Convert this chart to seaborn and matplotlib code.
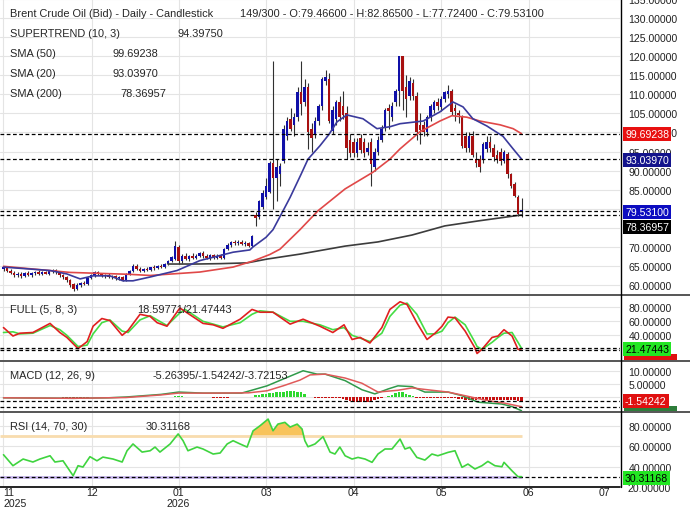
import matplotlib
matplotlib.use("Agg")
import matplotlib.pyplot as plt
from matplotlib.lines import Line2D
from matplotlib.patches import Rectangle
import seaborn as sns
import numpy as np

sns.set_theme(style="white")
plt.rcParams['font.family'] = ['Liberation Sans', 'DejaVu Sans']

# ---- candles (bar index 0..148) ----
opens = [64.2, 64.6, 63.8, 63.2, 62.5, 63.0, 62.4, 63.1, 62.7, 63.2,
         63.5, 62.9, 63.3, 63.0, 63.6, 63.9, 63.3, 62.5, 62.0, 61.2,
         60.2, 59.0, 60.1, 60.4, 60.2, 61.9, 62.6, 63.3, 62.8, 62.3,
         62.6, 62.1, 62.3, 61.8, 62.0, 61.4, 62.9, 63.8, 65.0, 64.3,
         63.8, 64.2, 64.0, 64.6, 64.4, 65.0, 64.7, 65.6, 66.4, 66.8,
         70.0, 66.3, 67.5, 66.8, 67.6, 67.2, 67.7, 68.3, 67.5, 67.0,
         67.8, 67.2, 67.6, 67.1, 69.4, 70.6, 71.2, 70.9, 71.4, 70.7,
         71.1, 70.3, 78.3, 77.8, 80.5, 83.0, 84.5, 92.0, 88.0, 89.0,
         92.5, 99.0, 103.5, 102.0, 104.0, 110.6, 108.0, 112.0, 101.0, 99.6,
         103.0, 107.0, 113.5, 114.0, 100.5, 103.5, 108.0, 107.0, 105.0, 98.0,
         97.5, 94.5, 98.5, 97.5, 95.0, 97.5, 91.0, 95.0, 98.0, 101.5,
         106.5, 104.0, 108.0, 111.0, 120.0, 112.0, 109.6, 113.0, 109.6, 102.0,
         102.0, 100.0, 104.0, 106.0, 108.0, 106.7, 108.8, 110.0, 111.0, 106.5,
         105.0, 104.0, 99.0, 96.0, 99.0, 93.0, 93.0, 93.0, 95.7, 97.5,
         96.0, 94.0, 95.0, 92.5, 94.4, 89.0, 86.5, 83.0, 79.466]
highs = [65.0, 64.9, 64.3, 63.6, 63.4, 63.3, 63.4, 63.6, 63.4, 63.7,
         63.9, 63.6, 63.8, 63.9, 64.2, 64.3, 63.6, 62.9, 62.4, 61.6,
         60.6, 60.4, 60.8, 61.0, 62.2, 63.0, 63.6, 63.8, 63.2, 63.0,
         63.1, 62.6, 62.7, 62.4, 62.3, 63.2, 64.0, 65.5, 65.6, 64.7,
         64.5, 64.6, 64.8, 65.2, 65.3, 65.4, 65.8, 66.6, 67.6, 71.5,
         70.6, 68.0, 68.3, 67.9, 68.3, 68.0, 68.6, 68.8, 68.0, 68.1,
         68.2, 68.0, 68.0, 69.8, 71.0, 71.5, 71.8, 71.7, 71.8, 71.5,
         71.4, 73.2, 79.2, 82.3, 84.8, 88.0, 92.5, 118.8, 93.0, 92.0,
         102.0, 104.0, 106.5, 105.0, 112.0, 118.8, 114.0, 113.0, 102.5, 104.0,
         107.5, 114.5, 116.5, 115.5, 107.0, 108.5, 109.5, 111.0, 107.0, 99.5,
         98.5, 98.5, 99.5, 98.5, 97.5, 98.5, 96.0, 99.0, 102.0, 106.5,
         107.5, 108.0, 111.5, 120.0, 120.0, 115.0, 114.5, 114.0, 110.5, 105.0,
         103.0, 104.5, 107.5, 108.5, 109.0, 109.5, 111.0, 112.5, 111.5, 107.5,
         106.0, 104.5, 100.0, 100.0, 100.5, 95.0, 94.0, 97.5, 99.0, 99.0,
         97.0, 95.5, 96.0, 95.5, 95.0, 89.5, 87.0, 83.5, 82.865]
lows = [63.6, 63.5, 62.8, 62.0, 62.1, 61.9, 62.0, 62.4, 62.0, 62.6,
        62.5, 62.6, 62.8, 62.7, 63.2, 63.0, 62.2, 61.6, 60.8, 59.6,
        58.4, 58.7, 59.5, 59.9, 60.0, 61.5, 62.2, 62.5, 62.0, 61.9,
        61.8, 61.5, 61.4, 61.2, 61.0, 61.1, 62.6, 63.5, 64.0, 63.5,
        63.4, 63.6, 63.7, 64.0, 64.1, 64.4, 64.5, 65.3, 66.1, 66.5,
        65.5, 65.9, 66.5, 66.4, 66.9, 66.7, 67.3, 67.2, 66.7, 66.6,
        66.9, 66.8, 66.8, 66.9, 69.1, 70.0, 70.6, 70.5, 70.4, 70.3,
        69.9, 70.0, 75.5, 77.3, 80.0, 82.5, 84.0, 80.0, 82.0, 86.0,
        92.0, 98.0, 100.5, 99.0, 103.0, 104.5, 107.0, 95.7, 95.0, 98.5,
        102.0, 106.0, 112.5, 102.5, 99.5, 102.0, 103.0, 103.5, 93.0, 93.5,
        93.5, 93.5, 94.5, 93.5, 94.0, 86.0, 90.0, 94.0, 97.5, 100.5,
        101.0, 103.0, 107.0, 107.0, 106.0, 104.0, 108.5, 108.5, 98.0, 97.0,
        99.0, 99.0, 103.0, 105.0, 106.0, 105.5, 108.0, 109.0, 104.5, 103.0,
        102.5, 96.0, 95.0, 95.0, 93.5, 91.0, 89.6, 92.0, 95.0, 95.0,
        92.5, 92.0, 91.5, 92.0, 88.0, 85.5, 83.0, 78.0, 77.724]
closes = [64.6, 63.8, 63.2, 62.5, 63.0, 62.4, 63.1, 62.7, 63.2, 63.5,
          62.9, 63.3, 63.0, 63.6, 63.9, 63.3, 62.5, 62.0, 61.2, 60.0,
          58.9, 60.1, 60.4, 60.2, 61.9, 62.6, 63.3, 62.8, 62.3, 62.6,
          62.1, 62.3, 61.8, 62.0, 61.4, 62.9, 63.8, 65.0, 64.3, 63.8,
          64.2, 64.0, 64.6, 64.4, 65.0, 64.7, 65.6, 66.4, 67.3, 70.2,
          66.3, 67.5, 66.8, 67.6, 67.2, 67.7, 68.3, 67.5, 67.0, 67.8,
          67.2, 67.6, 67.1, 69.4, 70.6, 71.2, 70.9, 71.4, 70.7, 71.1,
          70.3, 72.9, 77.6, 82.0, 84.2, 86.0, 92.0, 88.0, 91.0, 91.2,
          101.0, 103.0, 101.0, 104.0, 110.6, 107.5, 112.0, 100.0, 98.5, 103.0,
          107.0, 114.0, 114.5, 103.0, 106.0, 108.0, 104.0, 104.5, 96.0, 94.5,
          94.5, 97.5, 95.5, 94.5, 96.0, 91.8, 95.0, 98.0, 101.0, 106.0,
          105.5, 107.0, 111.0, 120.0, 111.0, 108.8, 113.5, 109.6, 100.0, 100.6,
          100.0, 104.0, 107.0, 108.0, 107.0, 108.8, 110.6, 111.0, 105.4, 105.5,
          104.5, 96.5, 96.0, 99.0, 94.0, 92.0, 91.0, 97.0, 97.5, 96.0,
          93.5, 93.0, 92.5, 95.0, 89.0, 86.0, 83.4, 78.6, 79.531]

# ---- moving averages (bar position, value) ----
sma20_x = [0, 13.3, 18.1, 21.9, 25.6, 30.4, 34.1, 37, 41.9, 49.6, 56.1, 65.6,
           70.4, 71.3, 75, 77, 79.9, 81.9, 85, 87, 90.4, 93, 95.3, 98.1, 102.7,
           106.7, 110.4, 113.3, 119.9, 124.7, 128.4, 131.3, 134.1, 138.1, 142.7,
           145.6, 148]
sma20_v = [64.7, 63.8, 62.9, 61.6, 62.4, 62.4, 61.1, 61.1, 62.1, 63.8, 66.4, 68.6,
           69.2, 70.0, 72.5, 74.5, 79.5, 83.0, 89.0, 93.0, 96.5, 99.5, 102.8, 104.6,
           103.6, 101.0, 101.5, 102.3, 103.0, 105.4, 108.0, 106.7, 103.6, 101.7,
           99.0, 95.7, 93.0397]
sma50_x = [0, 19, 36, 41.9, 56.1, 65.6, 71.3, 76.1, 79, 84.7, 89.9, 97.6, 105.6,
           110.4, 113.3, 119, 124.7, 128.1, 132.4, 136.1, 141.9, 145.6, 148]
sma50_v = [64.9, 63.3, 62.8, 62.5, 63.4, 64.7, 66.3, 68.0, 69.4, 74.5, 79.5, 85.2,
           89.6, 93.0, 95.7, 100.2, 103.0, 104.4, 104.0, 103.0, 102.0, 101.0, 99.69238]
sma200_x = [47, 55, 62, 69.6, 75.3, 84.7, 97.6, 107, 116.7, 126.1, 135.6, 148]
sma200_v = [65.5, 65.5, 65.6, 65.8, 66.8, 68.1, 70.2, 71.3, 73.1, 75.5, 76.8, 78.36957]

# ---- FULL stochastic ----
full_x = [0, 2.7, 4.7, 8.4, 13.3, 16.1, 18.1, 21.3, 23.9, 25.6, 28.1, 30.4, 33.9,
          35.6, 39, 41.9, 43.9, 46.7, 50.4, 51.9, 57, 59.9, 62.7, 67.6, 71, 73.3,
          77, 81.9, 85.6, 90.4, 94.1, 97.3, 99.6, 101.9, 104.7, 108.1, 110.4, 113.3,
          115.3, 118.1, 121, 123.3, 125.3, 127, 129, 131.9, 134.7, 135.3, 136.7,
          139.6, 141.3, 143, 145.3, 147, 148]
full_k = [51, 39, 43, 44, 57, 44, 37, 21, 31, 53, 64, 61, 40, 47, 70, 67, 58, 53,
          79, 74, 57, 55, 50, 63, 77, 73, 73, 56, 63, 53, 44, 55, 34, 37, 29, 51,
          77, 88, 84, 58, 34, 43, 53, 66, 65, 46, 22, 14, 20, 37, 39, 48, 39, 20,
          18.59771]
full_d = [44, 45, 42, 43, 54, 48, 40, 24, 26, 42, 58, 62, 46, 44, 62, 68, 62, 54,
          72, 77, 60, 56, 52, 58, 70, 75, 73, 60, 60, 55, 48, 51, 40, 36, 31, 43,
          67, 83, 86, 70, 42, 42, 46, 58, 66, 55, 30, 24, 20, 30, 37, 43, 44, 30,
          21.47443]

# ---- MACD ----
macd_x = [0, 20, 30, 35, 45, 50, 57, 68, 70.4, 75.3, 79.9, 85.6, 89.6, 91.9, 97.6,
          102.4, 106.1, 109.9, 112.7, 116.7, 120.4, 127, 131, 135.6, 142.4, 145.3, 148]
macd_v = [-0.3, -0.5, -0.3, 0.0, 1.0, 1.9, 1.5, 1.5, 2.4, 4.3, 6.9, 10.1, 8.8, 8.8,
          6.3, 2.8, 1.2, 3.1, 4.3, 4.0, 1.9, 1.9, 0.5, -2.0, -2.7, -3.7, -5.26395]
sig_x = [0, 20, 30, 35, 45, 50, 60, 70, 75.3, 79.9, 84.7, 87.6, 91.9, 97.6, 102.4,
         107, 112.7, 116.7, 122.4, 127, 131.9, 137.6, 143.3, 148]
sig_v = [-0.3, -0.5, -0.3, -0.2, 0.8, 1.5, 1.5, 1.6, 2.4, 4.3, 6.5, 8.5, 8.8, 7.3,
         5.3, 1.9, 2.6, 3.5, 2.6, 1.9, 0.5, -1.2, -2.4, -3.72153]
hist_idx = (list(range(17, 25)) + list(range(49, 52)) + list(range(60, 65))
            + list(range(72, 87)) + list(range(89, 109)) + list(range(110, 149)))
hist_v = [-0.3, -0.4, -0.4, -0.5, -0.4, -0.3, -0.3, -0.2,
          0.3, 0.4, 0.3,
          -0.2, -0.3, -0.3, -0.3, -0.2,
          0.6, 0.9, 1.1, 1.3, 1.5, 1.7, 1.9, 2.0, 2.1, 2.3, 2.3, 2.2, 2.1, 1.8, 1.2,
          -0.3, -0.4, -0.4, -0.5, -0.5, -0.4, -0.4, -0.5, -0.6,
          -1.0, -1.5, -1.9, -2.0, -2.0, -2.0, -1.8, -1.5, -1.2, -0.8, -0.4,
          0.5, 0.8, 1.5, 2.0, 1.8, 1.2, 0.8, 0.4,
          -0.3, -0.4, -0.5, -0.5, -0.4, -0.3, -0.3, -0.3, -0.2, -0.2, -0.3, -0.5,
          -0.7, -0.9, -1.0, -1.1, -1.1, -1.0, -0.9, -0.9, -1.0, -1.1, -1.2, -1.1,
          -1.0, -1.0, -1.1, -1.2, -1.3, -1.4, -1.54242]

# ---- RSI ----
rsi_x = [0, 2.7, 5.6, 8.4, 10.4, 13.3, 14.7, 17, 19.9, 21.3, 22.7, 24.7, 26.7, 28.4,
         31.3, 33.9, 35.3, 37, 39.6, 41.9, 43.3, 44.7, 47.6, 49.9, 51.3, 52.7, 55.3,
         57, 59.9, 61.9, 63.9, 65.6, 67.6, 69.6, 71.3, 73.3, 75.6, 77, 78.4, 80.4,
         81.9, 83.9, 85.3, 86.1, 87, 89, 91.3, 93.3, 94.7, 96.1, 97.6, 99.6, 101.3,
         103.3, 105.3, 107, 109, 111, 113.3, 114.7, 116.1, 118.1, 120.4, 122.4,
         124.1, 127, 129, 131, 132.7, 134.7, 136.7, 138.4, 140.4, 142.4, 143,
         145.3, 147, 148]
rsi_v = [51.7, 41, 47.5, 44.6, 47.5, 50.7, 44.6, 45.8, 31.2, 41, 39.7, 49.8, 45.8,
         49.4, 47.5, 44.6, 55.6, 62.2, 54.3, 55.6, 59.2, 54.3, 62.2, 72, 65.4, 55.6,
         59.2, 57.3, 52.4, 53.4, 62.2, 65.4, 62.2, 59.2, 75, 80, 86.5, 75.1, 81.6,
         83.3, 78.7, 81.6, 76.8, 65.4, 59.5, 62.2, 69.3, 54.3, 52.4, 59.2, 50.7, 47.5,
         49.1, 47.5, 44.3, 52.4, 57.3, 57.3, 67, 57.3, 58.9, 49.1, 46.5, 52.4, 50.7,
         54, 55.6, 39.4, 42.6, 37.8, 41, 45.2, 41, 40, 44.3, 36, 30.3, 30.31168]

month_pos = [-0.1, 25.3, 50, 75, 100, 125, 150, 171.6]
month_lab = ["11\n2025", "12", "01\n2026", "03", "04", "05", "06", "07"]

W, H = 690, 510
FS = 7.9
TS = 7.6


def px_box(x0, y0, x1, y1):
    return [x0 / W, 1 - y1 / H, (x1 - x0) / W, (y1 - y0) / H]


def ftext(x, y, s, **kw):
    fig.text(x / W, 1 - y / H, s, va='center', fontsize=kw.pop('fontsize', FS), **kw)


def price_tag(y, s, bg, fg='white'):
    fig.text(625 / W, 1 - y / H, s, va='center', ha='left', fontsize=TS, color=fg,
             bbox=dict(boxstyle='square,pad=0.22', fc=bg, ec='none'), zorder=6)


fig = plt.figure(figsize=(6.9, 5.1), dpi=100)
fig.patch.set_facecolor('white')
ax_p = fig.add_axes(px_box(0, 0, 620, 295))
ax_s = fig.add_axes(px_box(0, 296, 620, 361))
ax_m = fig.add_axes(px_box(0, 362, 620, 412))
ax_r = fig.add_axes(px_box(0, 413, 620, 487))

grid_c = '#e4e4e4'
for ax in (ax_p, ax_s, ax_m, ax_r):
    ax.set_xlim(-1, 620 / 3.5 - 1)
    for s in ax.spines.values():
        s.set_visible(False)
    ax.yaxis.tick_right()
    ax.set_xticks(month_pos)
    ax.tick_params(axis='both', length=0, labelsize=TS, labelcolor='#222222')
    ax.tick_params(axis='y', pad=6)
    ax.tick_params(axis='x', labelbottom=False)
    ax.grid(True, color=grid_c, lw=0.8)
    ax.get_xgridlines()[-1].set_visible(False)
    ax.yaxis.set_major_formatter(plt.FuncFormatter(lambda v, p: f"{v:.5f}"))
    ax.set_axisbelow(True)

# ---- price panel ----
idx = np.arange(len(closes))
o = np.array(opens)
c = np.array(closes)
up = c >= o
body_lo = np.minimum(o, c)
body_h = np.maximum(np.abs(c - o), 0.3)
ax_p.vlines(idx, lows, highs, color='#303030', lw=0.8, zorder=2)
ax_p.bar(idx, body_h, bottom=body_lo, width=0.8, lw=0,
         color=np.where(up, '#1010a8', '#a81010'), zorder=3)
sns.lineplot(x=sma200_x, y=sma200_v, ax=ax_p, color='#3c3c3c', lw=1.2, zorder=4)
sns.lineplot(x=sma50_x, y=sma50_v, ax=ax_p, color='#e04848', lw=1.2, zorder=4)
sns.lineplot(x=sma20_x, y=sma20_v, ax=ax_p, color='#3a3a9c', lw=1.2, zorder=4)
for v in (99.69238, 93.03970, 79.53100, 78.36957):
    ax_p.axhline(v, color='black', ls=(0, (3, 2)), lw=0.9, zorder=5)
ax_p.set_ylim(57.64, 135.0)
ax_p.set_yticks(np.arange(60, 136, 5))

# ---- FULL panel ----
sns.lineplot(x=full_x, y=full_d, ax=ax_s, color='#44dd44', lw=1.2)
sns.lineplot(x=full_x, y=full_k, ax=ax_s, color='#e02020', lw=1.2)
for v in (21.47443, 18.59771):
    ax_s.axhline(v, color='black', ls=(0, (3, 2)), lw=0.9)
ax_s.set_ylim(4.7, 97.6)
ax_s.set_yticks([20, 40, 60, 80])

# ---- MACD panel ----
hcol = ['#2ed82e' if v > 0 else '#c81010' for v in hist_v]
ax_m.bar(hist_idx, hist_v, width=0.62, lw=0, color=hcol, zorder=2)
sns.lineplot(x=macd_x, y=macd_v, ax=ax_m, color='#2f9a4a', lw=1.1, zorder=3)
sns.lineplot(x=sig_x, y=sig_v, ax=ax_m, color='#e05a5a', lw=1.1, zorder=3)
for v in (-1.54242, -3.72153):
    ax_m.axhline(v, color='black', ls=(0, (3, 2)), lw=0.9, zorder=4)
ax_m.set_ylim(-5.38, 13.85)
ax_m.set_yticks([0, 5, 10])

# ---- RSI panel ----
rx = np.array(rsi_x)
rv = np.array(rsi_v)
ax_r.hlines(70, -1, 148, color='#f8dcae', lw=2)
ax_r.hlines(30, -1, 148, color='#c9b8ee', lw=2)
ax_r.fill_between(rx, 70, rv, where=rv > 70, interpolate=True, color='#f8c35a', lw=0)
sns.lineplot(x=rsi_x, y=rsi_v, ax=ax_r, color='#3fd43f', lw=1.2, zorder=3)
ax_r.axhline(30.31168, color='black', ls=(0, (3, 2)), lw=0.9)
ax_r.set_ylim(21.2, 93.4)
ax_r.set_yticks([40, 60, 80])
ax_r.tick_params(axis='x', labelbottom=True, pad=0.5)
ax_r.set_xticklabels(month_lab, linespacing=1.15)
ax_r.get_xticklabels()[0].set_ha('left')
ftext(628, 489, "20.00000", fontsize=TS, color='#222222')

# ---- legend texts ----
ftext(10, 14, "Brent Crude Oil (Bid) - Daily - Candlestick")
ftext(240, 14, "149/300 - O:79.46600 - H:82.86500 - L:77.72400 - C:79.53100")
ftext(10, 34, "SUPERTREND (10, 3)")
ftext(178, 34, "94.39750")
ftext(10, 54, "SMA (50)")
ftext(113, 54, "99.69238")
ftext(10, 74, "SMA (20)")
ftext(113, 74, "93.03970")
ftext(10, 94, "SMA (200)")
ftext(120, 94, "78.36957")
ftext(10, 310, "FULL (5, 8, 3)")
ftext(137, 310, "18.59771/21.47443")
ftext(10, 376, "MACD (12, 26, 9)")
ftext(153, 376, "-5.26395/-1.54242/-3.72153")
ftext(10, 427, "RSI (14, 70, 30)")
ftext(146, 427, "30.31168")

# ---- right side price tags ----
fig.add_artist(Rectangle((624 / W, 1 - 361 / H), 53 / W, 6 / H,
                         transform=fig.transFigure, fc='#e01010', ec='none', zorder=5))
fig.add_artist(Rectangle((624 / W, 1 - 412 / H), 53 / W, 5 / H,
                         transform=fig.transFigure, fc='#2e7d3a', ec='none', zorder=5))
price_tag(135, "99.69238", '#e81010')
price_tag(161, "93.03970", '#14148c')
price_tag(213, "79.53100", '#0c0cc0')
price_tag(228, "78.36957", '#000000')
price_tag(350, "21.47443", '#22e622', fg='black')
price_tag(402, "-1.54242", '#e01010')
price_tag(479, "30.31168", '#22e622', fg='black')

# ---- panel borders ----
for y in (295.5, 361.5, 412.5):
    fig.add_artist(Line2D([0, 1], [1 - y / H] * 2, color='#555555', lw=1.4, zorder=7))
fig.add_artist(Line2D([0, 620 / W], [1 - 487.5 / H] * 2, color='black', lw=1.2, zorder=7))
fig.add_artist(Line2D([620.5 / W] * 2, [1 - 487.5 / H, 1], color='black', lw=1.0, zorder=7))

fig.savefig("out.png", dpi=100)
